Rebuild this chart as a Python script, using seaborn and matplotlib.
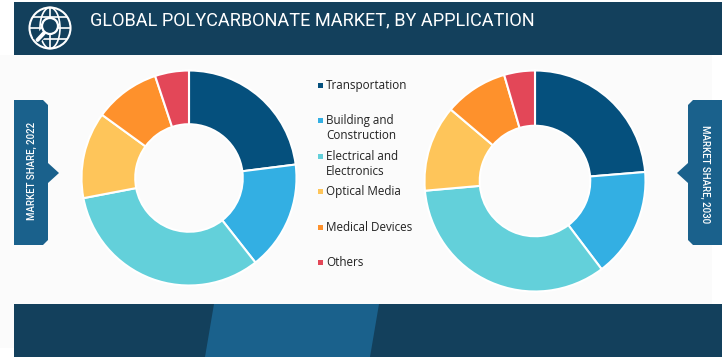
import matplotlib
matplotlib.use("Agg")
import matplotlib.pyplot as plt
from matplotlib.patches import Circle, Ellipse, Polygon, Rectangle
import seaborn as sns

categories = ["Transportation", "Building and\nConstruction", "Electrical and\nElectronics",
              "Optical Media", "Medical Devices", "Others"]
share_2022 = [23.0, 16.4, 32.6, 13.0, 9.9, 5.1]
share_2030 = [23.7, 16.0, 33.9, 12.6, 9.3, 4.5]
colors = ["#05507d", "#33afe3", "#63d0da", "#fec55a", "#fe912c", "#e34758"]
title = "GLOBAL POLYCARBONATE MARKET, BY APPLICATION"
left_tag = "MARKET SHARE, 2022"
right_tag = "MARKET SHARE, 2030"

W, H = 722, 357
DARK = "#13405c"
MID = "#1a618c"

sns.set_theme(style="white")
plt.rcParams["font.family"] = ["Open Sans", "DejaVu Sans"]
palette = sns.color_palette(colors)

fig = plt.figure(figsize=(W / 100, H / 100), dpi=100, facecolor="white")

# background layer in pixel coordinates
bg = fig.add_axes([0, 0, 1, 1])
bg.set_xlim(0, W)
bg.set_ylim(H, 0)
bg.axis("off")
bg.add_patch(Rectangle((0, 55), 712, 293, fc="#fbfbfb", ec="none"))
bg.add_patch(Rectangle((14, 2), 708, 53, fc=DARK, ec="none"))
bg.add_patch(Rectangle((14, 304), 708, 53, fc=DARK, ec="none"))
bg.add_patch(Polygon([(214, 304), (379, 304), (370, 357), (205, 357)], fc=MID, ec="none"))

# side tags
bg.add_patch(Polygon([(14, 100), (43, 100), (48, 105), (48, 163), (59, 173), (48, 183),
                      (48, 240), (43, 245), (14, 245)], fc=MID, ec="none"))
bg.add_patch(Polygon([(722, 100), (693, 100), (688, 105), (688, 163), (677, 173), (688, 183),
                      (688, 240), (693, 245), (722, 245)], fc=MID, ec="none"))
bg.text(32, 171, left_tag, color="white", fontsize=6.9, rotation=90, ha="center", va="center",
        family="Roboto", weight="medium")
bg.text(705, 174, right_tag, color="white", fontsize=6.9, rotation=270, ha="center", va="center",
        family="Roboto", weight="medium")

# header icon: globe and magnifier
gx, gy = 50, 28
bg.add_patch(Circle((gx, gy), 20.5, fc="none", ec="white", lw=1.5))
bg.add_patch(Ellipse((gx, gy), 20, 41, fc="none", ec="white", lw=1.2))
bg.plot([gx, gx], [gy - 20, gy + 20], color="white", lw=1.2)
bg.plot([gx - 20, gx + 20], [gy, gy], color="white", lw=1.2)
bg.plot([gx - 17, gx + 17], [gy - 11, gy - 11], color="white", lw=1.2)
bg.plot([gx - 17, gx + 17], [gy + 11, gy + 11], color="white", lw=1.2)
bg.plot([44, 36], [32, 41], color=DARK, lw=6, solid_capstyle="butt")
bg.add_patch(Circle((50, 26), 8, fc=DARK, ec="white", lw=1.6, zorder=3))
bg.plot([44, 37.5], [33, 40], color="white", lw=2.8, solid_capstyle="round", zorder=3)

bg.text(90, 20, title, color="white", fontsize=13.1, ha="left", va="center", family="Roboto")


def donut(values, cx, cy, r):
    ax = fig.add_axes([(cx - r) / W, 1 - (cy + r) / H, 2 * r / W, 2 * r / H])
    ax.pie(values, colors=palette, startangle=90, counterclock=False, radius=1,
           wedgeprops=dict(width=0.5, edgecolor="white", linewidth=1.5))
    ax.set_xlim(-1, 1)
    ax.set_ylim(-1, 1)
    ax.axis("off")


donut(share_2022, 189, 178, 107.5)
donut(share_2030, 535, 181, 110.5)

# legend
legend_y = [85, 120, 156, 191, 227, 262]
label_y = [85.5, 128, 164, 192, 227.5, 263]
for name, col, my, ty in zip(categories, palette, legend_y, label_y):
    bg.add_patch(Rectangle((318, my - 2.5), 5, 5, fc=col, ec="none"))
    bg.text(326, ty, name, color="#222222", fontsize=8.4, ha="left", va="center",
            linespacing=1.15)

fig.savefig("out.png", dpi=100)
